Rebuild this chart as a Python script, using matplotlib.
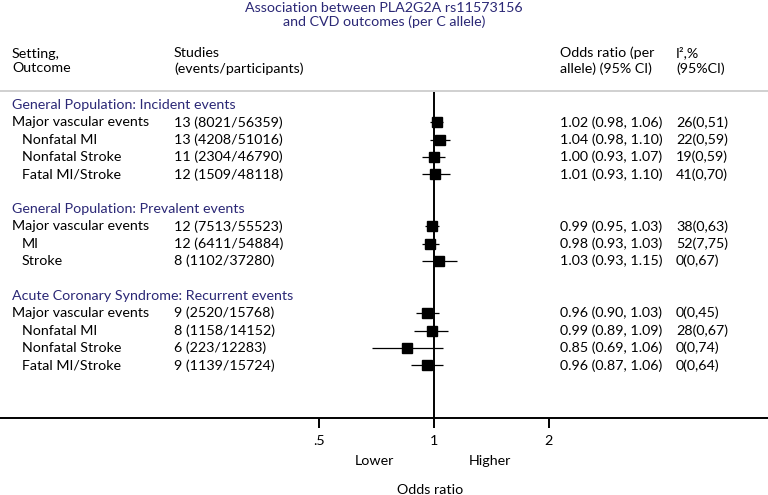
import matplotlib
matplotlib.use("Agg")
import matplotlib.pyplot as plt
import numpy as np

plt.rcParams['font.family'] = ['Lato', 'DejaVu Sans']

title = "Association between PLA2G2A rs11573156\nand CVD outcomes (per C allele)"

groups = ["General Population: Incident events",
          "General Population: Prevalent events",
          "Acute Coronary Syndrome: Recurrent events"]
outcomes = [
    ["Major vascular events", "Nonfatal MI", "Nonfatal Stroke", "Fatal MI/Stroke"],
    ["Major vascular events", "MI", "Stroke"],
    ["Major vascular events", "Nonfatal MI", "Nonfatal Stroke", "Fatal MI/Stroke"],
]
studies = [
    ["13 (8021/56359)", "13 (4208/51016)", "11 (2304/46790)", "12 (1509/48118)"],
    ["12 (7513/55523)", "12 (6411/54884)", "8 (1102/37280)"],
    ["9 (2520/15768)", "8 (1158/14152)", "6 (223/12283)", "9 (1139/15724)"],
]
odds = [[1.02, 1.04, 1.00, 1.01], [0.99, 0.98, 1.03], [0.96, 0.99, 0.85, 0.96]]
lower = [[0.98, 0.98, 0.93, 0.93], [0.95, 0.93, 0.93], [0.90, 0.89, 0.69, 0.87]]
upper = [[1.06, 1.10, 1.07, 1.10], [1.03, 1.03, 1.15], [1.03, 1.09, 1.06, 1.06]]
i2 = [["26(0,51)", "22(0,59)", "19(0,59)", "41(0,70)"],
      ["38(0,63)", "52(7,75)", "0(0,67)"],
      ["0(0,45)", "28(0,67)", "0(0,74)", "0(0,64)"]]

navy = "#2b2876"
W, H = 768, 495
fs = 10.3

fig = plt.figure(figsize=(W / 100, H / 100), dpi=100)
# axes from pixel row 92 to 418, full width, log odds scale
ax = fig.add_axes([0, (H - 418) / H, 1, (418 - 92) / H])
px_per_doubling = 115.0
x_one = 433.7
ax.set_xscale("log")
ax.set_xlim(2 ** ((0 - x_one) / px_per_doubling), 2 ** ((W - x_one) / px_per_doubling))
ax.set_ylim(418, 92)
for s in ["top", "left", "right"]:
    ax.spines[s].set_visible(False)
ax.spines["bottom"].set_linewidth(1.4)
ax.set_yticks([])
ax.set_xticks([0.5, 1, 2])
ax.set_xticklabels([".5", "1", "2"])
ax.minorticks_off()
ax.tick_params(axis="x", length=7, width=1.4, pad=5, labelsize=fs)
ax.axvline(1, color="black", lw=1.4)


def ftext(x, y, s, **kw):
    fig.text(x / W, 1 - y / H, s, va="center", fontsize=fs, **kw)


ftext(W / 2, 15, title, ha="center", color=navy, linespacing=1.2)
ftext(12, 61, "Setting,\nOutcome", ha="left", linespacing=1.3)
ftext(174, 61, "Studies\n(events/participants)", ha="left", linespacing=1.3)
ftext(560, 61, "Odds ratio (per\nallele) (95% CI)", ha="left", linespacing=1.3)
ftext(676, 61, "I²,%\n(95%CI)", ha="left", linespacing=1.3)
fig.add_artist(plt.Line2D([0, 1], [1 - 90.5 / H] * 2, color="#c8c8c8", lw=1.2))

pitch = 17.35
row = 0
for g in range(len(groups)):
    y = 105 + row * pitch
    ftext(12, y, groups[g], ha="left", color=navy)
    row += 1
    for k in range(len(outcomes[g])):
        y = 105 + row * pitch
        ftext(12 if k == 0 else 22, y, outcomes[g][k], ha="left")
        ftext(174, y, studies[g][k], ha="left")
        ftext(560, y, "%.2f (%.2f, %.2f)" % (odds[g][k], lower[g][k], upper[g][k]), ha="left")
        ftext(676, y, i2[g][k], ha="left")
        ax.plot([lower[g][k], upper[g][k]], [y, y], color="black", lw=0.9, solid_capstyle="butt")
        ax.plot(odds[g][k], y, marker="s", ms=7.2, color="black", clip_on=False)
        row += 1
    row += 1

ax.text(0.698, 461, "Lower", ha="center", va="center", fontsize=fs, clip_on=False)
ax.text(1.40, 461, "Higher", ha="center", va="center", fontsize=fs, clip_on=False)
ax.text(0.98, 490, "Odds ratio", ha="center", va="center", fontsize=fs, clip_on=False)

fig.savefig("out.png", dpi=100)
